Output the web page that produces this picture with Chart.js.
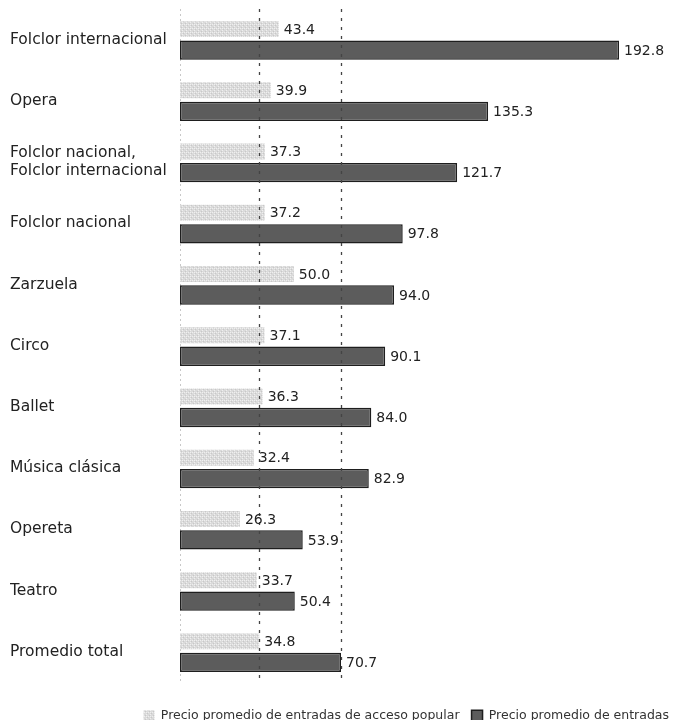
<!DOCTYPE html>
<html>
<head>
<meta charset="utf-8">
<script src="https://cdn.jsdelivr.net/npm/chart.js@4/dist/chart.umd.min.js"></script>
<style>
html,body{margin:0;padding:0;background:#fff;}
#wrap{width:688px;height:720px;position:relative;}
</style>
</head>
<body>
<div id="wrap"><canvas id="c" width="688" height="720"></canvas></div>
<script>
const categories = [
  "Folclor internacional",
  "Opera",
  ["Folclor nacional,", "Folclor internacional"],
  "Folclor nacional",
  "Zarzuela",
  "Circo",
  "Ballet",
  "Música clásica",
  "Opereta",
  "Teatro",
  "Promedio total"
];
const popularValues = [43.4, 39.9, 37.3, 37.2, 50.0, 37.1, 36.3, 32.4, 26.3, 33.7, 34.8];
const generalValues = [192.8, 135.3, 121.7, 97.8, 94.0, 90.1, 84.0, 82.9, 53.9, 50.4, 70.7];
const seriesNames = ["Precio promedio de entradas de acceso popular", "Precio promedio de entradas"];
const averageLines = [34.8, 70.7];

const FONT = '"DejaVu Sans", Verdana, sans-serif';

function makePattern(){
  const p = document.createElement('canvas');
  p.width = 4; p.height = 4;
  const g = p.getContext('2d');
  g.fillStyle = '#dadada'; g.fillRect(0,0,4,4);
  g.fillStyle = '#efefef';
  g.fillRect(0,0,1,1); g.fillRect(2,2,1,1); g.fillRect(2,0,1,1);
  g.fillStyle = '#c8c8c8';
  g.fillRect(1,3,1,1); g.fillRect(3,1,1,1);
  return g.createPattern(p, 'repeat');
}
const ctx0 = document.getElementById('c').getContext('2d');
const lightFill = makePattern();

const extras = {
  id: 'extras',
  beforeDatasetsDraw(chart){
    const {ctx, chartArea, scales} = chart;
    ctx.save();
    ctx.strokeStyle = '#c8c8c8';
    ctx.lineWidth = 1;
    ctx.setLineDash([2,3]);
    ctx.beginPath();
    const x0 = Math.round(scales.x.getPixelForValue(0)) + 0.5;
    ctx.moveTo(x0, chartArea.top); ctx.lineTo(x0, chartArea.bottom);
    ctx.stroke();
    ctx.restore();
  },
  afterDatasetsDraw(chart){
    const {ctx, chartArea, scales} = chart;
    ctx.save();
    ctx.strokeStyle = '#444';
    ctx.lineWidth = 1.3;
    ctx.setLineDash([3,6]);
    averageLines.forEach(v => {
      const x = Math.round(scales.x.getPixelForValue(v)) + 0.5;
      ctx.beginPath();
      ctx.moveTo(x, chartArea.top); ctx.lineTo(x, chartArea.bottom);
      ctx.stroke();
    });
    ctx.setLineDash([]);
    ctx.font = '14px ' + FONT;
    ctx.fillStyle = '#222';
    ctx.textBaseline = 'middle';
    ctx.textAlign = 'left';
    chart.data.datasets.forEach((ds, di) => {
      const meta = chart.getDatasetMeta(di);
      meta.data.forEach((bar, i) => {
        ctx.fillText(ds.data[i].toFixed(1), bar.x + 5, bar.y + 1);
      });
    });
    ctx.restore();
  }
};

new Chart(ctx0, {
  type: 'bar',
  data: {
    labels: categories,
    datasets: [
      {
        label: seriesNames[0],
        data: popularValues,
        backgroundColor: lightFill,
        borderWidth: 0,
        barPercentage: 0.76
      },
      {
        label: seriesNames[1],
        data: generalValues,
        backgroundColor: '#5c5c5c',
        borderColor: '#1e1e1e',
        borderWidth: 1.5,
        borderSkipped: false,
        barPercentage: 0.92
      }
    ]
  },
  options: {
    indexAxis: 'y',
    responsive: false,
    animation: false,
    devicePixelRatio: 1,
    layout: { padding: { top: 9, right: 7, left: 10, bottom: -12 } },
    categoryPercentage: 0.686,
    scales: {
      x: {
        display: true,
        min: 0,
        max: 220,
        afterFit(axis){ axis.height = 15; },
        grid: { display: false },
        border: { display: false },
        ticks: { display: false }
      },
      y: {
        afterFit(axis){ axis.width = 170; axis.paddingTop = 0; axis.paddingBottom = 0; },
        grid: { display: false },
        border: { display: false },
        ticks: {
          crossAlign: 'far',
          color: '#222',
          padding: 10,
          font: { family: FONT, size: 15.5 }
        }
      }
    },
    plugins: {
      legend: {
        position: 'bottom',
        align: 'end',
        labels: {
          color: '#333',
          boxWidth: 11,
          boxHeight: 11,
          padding: 12,
          font: { family: FONT, size: 12.5 }
        }
      },
      tooltip: { enabled: false }
    }
  },
  plugins: [extras]
});
</script>
</body>
</html>
